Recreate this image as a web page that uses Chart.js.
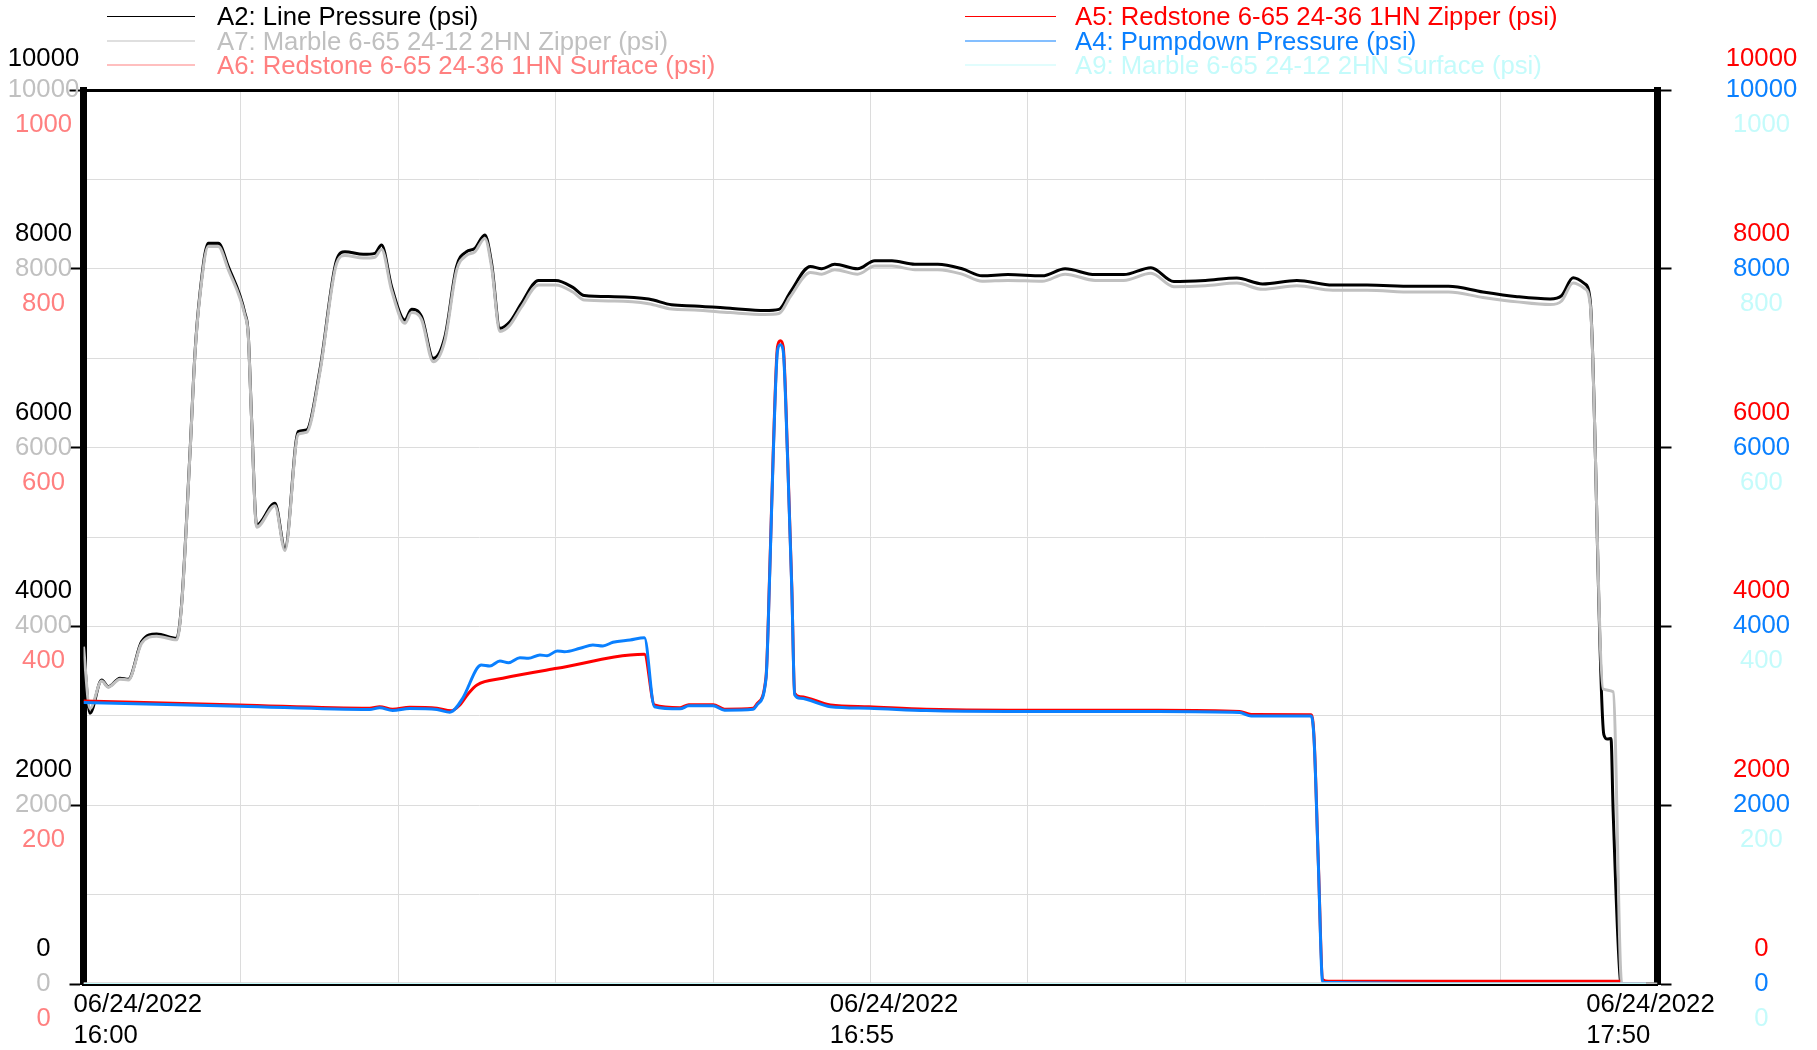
<!DOCTYPE html>
<html>
<head>
<meta charset="utf-8">
<title>Pressure trend</title>
<script src="https://cdn.jsdelivr.net/npm/chart.js@4.4.1/dist/chart.umd.min.js"></script>
<style>
  html, body { margin:0; padding:0; background:#fff; }
  #wrap { width:1817px; height:1050px; }
</style>
</head>
<body>
<div id="wrap"><canvas id="trendChart" width="1817" height="1050"></canvas></div>
<script>

// ======================================
// DATA (minutes after 16:00, psi)
// ======================================
const dateText = '06/24/2022';
const startHour = 16;
const timeTicks = [0, 55, 110];

const a2Time = [0, 0.45, 1.27, 1.73, 2.55, 3.13, 4.06, 5.11, 6.51, 6.86, 7.44, 7.79, 8.14, 8.72, 9.42, 10.12, 11.28, 11.51, 11.75, 12.1, 13.38, 14.08, 15.01, 15.59, 16.52, 17.69, 18.27, 19.55, 20.36, 20.83, 21.53, 22.46, 22.93, 23.63, 24.44, 25.26, 26.07, 26.77, 27.35, 28.05, 28.52, 29.1, 29.8, 30.6, 31.8, 33.0, 34.2, 35.0, 37.1, 39.5, 41.1, 42.7, 45.2, 47.6, 48.6, 49.4, 50.8, 51.6, 52.5, 54.1, 55.3, 56.5, 58.1, 59.7, 61.4, 62.8, 64.6, 67.0, 68.6, 70.7, 72.7, 74.6, 76.2, 78.4, 80.6, 82.4, 84.8, 87.3, 89.7, 92.9, 95.4, 97.8, 100.2, 102.5, 103.3, 104.1, 104.9, 105.3, 106.25, 106.5, 106.75, 106.9, 107.4, 107.5, 110];
const a2Psi  = [3750, 3028, 3400, 3326, 3420, 3408, 3829, 3915, 3867, 4258, 5936, 7055, 7726, 8285, 8285, 8024, 7502, 7278, 6309, 5134, 5377, 4873, 6178, 6197, 6868, 8098, 8191, 8162, 8173, 8266, 7800, 7427, 7547, 7465, 6999, 7241, 8024, 8191, 8229, 8378, 8061, 7334, 7408, 7610, 7870, 7870, 7792, 7701, 7688, 7662, 7598, 7585, 7559, 7533, 7546, 7740, 8025, 8000, 8051, 8000, 8090, 8090, 8051, 8051, 8000, 7922, 7935, 7922, 8000, 7935, 7935, 8012, 7857, 7870, 7896, 7831, 7870, 7818, 7818, 7805, 7805, 7740, 7688, 7662, 7700, 7899, 7834, 7639, 2790, 2740, 2745, 1930, 50, 0, 0];

const a7Time = [0, 0.45, 1.27, 1.73, 2.55, 3.13, 4.06, 5.11, 6.51, 6.86, 7.44, 7.79, 8.14, 8.72, 9.42, 10.12, 11.28, 11.51, 11.75, 12.1, 13.38, 14.08, 15.01, 15.59, 16.52, 17.69, 18.27, 19.55, 20.36, 20.83, 21.53, 22.46, 22.93, 23.63, 24.44, 25.26, 26.07, 26.77, 27.35, 28.05, 28.52, 29.1, 29.8, 30.6, 31.8, 33.0, 34.2, 35.0, 37.1, 39.5, 41.1, 42.7, 45.2, 47.6, 48.6, 49.4, 50.8, 51.6, 52.5, 54.1, 55.3, 56.5, 58.1, 59.7, 61.4, 62.8, 64.6, 67.0, 68.6, 70.7, 72.7, 74.6, 76.2, 78.4, 80.6, 82.4, 84.8, 87.3, 89.7, 92.9, 95.4, 97.8, 100.2, 102.5, 103.3, 104.1, 104.9, 105.3, 106.2, 106.9, 107.5, 110];
const a7Psi  = [3773, 3080, 3390, 3320, 3410, 3400, 3810, 3890, 3850, 4240, 5920, 7040, 7700, 8250, 8250, 7990, 7480, 7260, 6290, 5110, 5350, 4850, 6150, 6170, 6840, 8060, 8150, 8120, 8130, 8220, 7760, 7390, 7510, 7430, 6960, 7200, 7980, 8150, 8190, 8340, 8020, 7300, 7370, 7570, 7820, 7820, 7740, 7650, 7640, 7610, 7550, 7540, 7510, 7490, 7500, 7690, 7960, 7940, 7990, 7940, 8030, 8030, 7990, 7990, 7940, 7860, 7870, 7860, 7940, 7870, 7870, 7950, 7800, 7810, 7840, 7770, 7810, 7760, 7760, 7740, 7740, 7680, 7630, 7600, 7640, 7840, 7780, 7600, 3300, 3270, 0, 0];

const a6Time = [0, 109.2];
const a6Psi  = [0, 0];

const a5Time = [0, 10.9, 20.0, 20.7, 21.6, 22.8, 24.7, 25.7, 26.3, 26.9, 27.5, 29.3, 33.1, 39.2, 39.9, 41.7, 42.3, 44.0, 44.8, 46.8, 47.1, 47.7, 47.96, 48.2, 48.5, 48.7, 48.9, 49.2, 49.5, 49.7, 50.1, 52.2, 54.9, 58.9, 64.6, 75.1, 80.8, 81.6, 85.8, 86.0, 86.3, 86.6, 87.0, 107.4];
const a5Psi  = [3166, 3121, 3084, 3102, 3073, 3095, 3084, 3057, 3121, 3250, 3345, 3420, 3531, 3688, 3121, 3091, 3125, 3125, 3074, 3084, 3140, 3437, 4631, 5936, 7129, 7196, 7129, 5936, 4444, 3252, 3214, 3121, 3100, 3074, 3062, 3062, 3049, 3015, 3012, 2750, 1350, 50, 30, 30];

const a4Time = [0, 10.9, 20.0, 20.7, 21.6, 22.8, 24.7, 25.6, 26.5, 27.5, 27.8, 28.4, 29.1, 29.7, 30.5, 31.1, 31.9, 32.4, 33.1, 33.6, 34.7, 35.6, 36.3, 37.0, 38.2, 39.2, 39.9, 41.7, 42.3, 44.0, 44.8, 46.8, 47.1, 47.7, 47.96, 48.2, 48.5, 48.7, 48.9, 49.2, 49.5, 49.7, 50.1, 52.2, 54.9, 58.9, 64.6, 75.1, 80.8, 81.6, 85.8, 86.0, 86.3, 86.6, 109.2];
const a4Psi  = [3150, 3108, 3070, 3090, 3060, 3082, 3070, 3040, 3196, 3531, 3568, 3557, 3613, 3594, 3650, 3643, 3680, 3672, 3725, 3717, 3755, 3792, 3781, 3822, 3848, 3874, 3102, 3078, 3112, 3112, 3062, 3072, 3128, 3420, 4600, 5900, 7080, 7150, 7080, 5900, 4420, 3235, 3195, 3102, 3085, 3058, 3048, 3048, 3036, 2998, 2998, 2730, 1330, 20, 0];

const a9Time = [0, 109.2];
const a9Psi  = [0, 0];

// ======================================
// STYLE
// ======================================
const FONT = "'Liberation Sans', Arial, Helvetica, sans-serif";
const FONT_SIZE = 25.7;
const BLACK = '#000000';
const GRAY  = '#c0c0c0';
const PINK  = '#ff8080';
const RED   = '#ff0000';
const BLUE  = '#0a80ff';
const CYAN  = '#c4fbfb';
const GRID  = '#dcdcdc';

Chart.defaults.font.family = FONT;
Chart.defaults.font.size = FONT_SIZE;

function toPoints(times, values){
  return times.map((t, i) => ({ x:t, y:values[i] }));
}

function timeText(min){
  const h = startHour + Math.floor(min / 60);
  const m = Math.round(min % 60);
  return h + ':' + String(m).padStart(2, '0');
}

// labels stacked above / on / below the tick line
function stacked(pos){
  return (v) => {
    const lines = ['', '', ''];
    lines[pos] = String(v);
    return lines;
  };
}

// row spacing of stacked labels (top one sits a bit closer)
function stackFont(c){
  const top = c.tick && c.tick.value === c.scale.max;
  return { size:FONT_SIZE, lineHeight:(top ? 31 : 35) / FONT_SIZE };
}

// extra label axes take no room in the layout...
function squash(scale){
  scale.width = 0;
  scale.paddingTop = 0;
  scale.paddingBottom = 0;
}

// ...and get their drawing room back once the layout is done
const labelAxes = {
  id:'labelAxes',
  afterLayout(chart){
    const area = chart.chartArea;
    ['yA2', 'yA6'].forEach(id => {
      const s = chart.scales[id];
      s.left = 0; s.right = area.left; s.width = area.left;
    });
    ['yA5', 'yA9'].forEach(id => {
      const s = chart.scales[id];
      s.left = area.right; s.right = chart.width; s.width = chart.width - area.right;
    });
  }
};

// ======================================
// LEGEND (two columns above the plot)
// ======================================
const legendCols = [
  { line0:107, line1:195, text:217 },
  { line0:965, line1:1056, text:1075 }
];
const legendRows = [16.5, 41, 65];

const twoColumnLegend = {
  id:'twoColumnLegend',
  afterDraw(chart){
    const ctx = chart.ctx;
    ctx.save();
    ctx.font = FONT_SIZE + 'px ' + FONT;
    ctx.textBaseline = 'middle';
    ctx.textAlign = 'left';
    chart.data.datasets.forEach((ds, i) => {
      const col = legendCols[i < 3 ? 0 : 1];
      const y = legendRows[i % 3];
      ctx.strokeStyle = ds.borderColor;
      ctx.lineWidth = 1.2;
      ctx.beginPath();
      ctx.moveTo(col.line0, y);
      ctx.lineTo(col.line1, y);
      ctx.stroke();
      ctx.fillStyle = ds.borderColor;
      ctx.fillText(ds.label, col.text, y + 1.5);
    });
    ctx.restore();
  }
};

// ======================================
// CHART
// ======================================
const lineBase = {
  borderWidth:3,
  pointRadius:0,
  fill:false,
  cubicInterpolationMode:'monotone',
  xAxisID:'x'
};

const ctx = document.getElementById('trendChart');

const trendChart = new Chart(ctx, {

  type:'line',

  data:{
    datasets:[
      { ...lineBase, label:'A2: Line Pressure (psi)', data:toPoints(a2Time, a2Psi), yAxisID:'yA2', borderColor:BLACK, order:5 },
      { ...lineBase, label:'A7: Marble 6-65 24-12 2HN Zipper (psi)', data:toPoints(a7Time, a7Psi), yAxisID:'yA7', borderColor:GRAY, order:4 },
      { ...lineBase, label:'A6: Redstone 6-65 24-36 1HN Surface (psi)', data:toPoints(a6Time, a6Psi), yAxisID:'yA6', borderColor:PINK, order:1 },
      { ...lineBase, label:'A5: Redstone 6-65 24-36 1HN Zipper (psi)', data:toPoints(a5Time, a5Psi), yAxisID:'yA5', borderColor:RED, order:3 },
      { ...lineBase, label:'A4: Pumpdown Pressure (psi)', data:toPoints(a4Time, a4Psi), yAxisID:'yA4', borderColor:BLUE, order:2 },
      { ...lineBase, label:'A9: Marble 6-65 24-12 2HN Surface (psi)', data:toPoints(a9Time, a9Psi), yAxisID:'yA9', borderColor:CYAN, order:0 }
    ]
  },

  options:{
    responsive:false,
    animation:false,
    events:[],

    layout:{ padding:{ top:90, left:0, right:0, bottom:0 } },

    plugins:{
      legend:{ display:false },
      tooltip:{ enabled:false }
    },

    scales:{

      // time grid + bottom frame
      x:{
        type:'linear', position:'bottom', weight:0,
        min:0, max:110,
        ticks:{ display:false, stepSize:11 },
        grid:{ color:GRID, lineWidth:1, drawTicks:false },
        border:{ color:BLACK, width:3 },
        afterFit:(s) => { s.height = 0; }
      },

      // date / time labels
      xLab:{
        type:'linear', position:'bottom', weight:1,
        min:0.73, max:115.19,
        afterBuildTicks:(s) => { s.ticks = timeTicks.map(v => ({ value:v })); },
        ticks:{
          align:'start', padding:5, autoSkip:false, maxRotation:0,
          color:BLACK, font:{ size:FONT_SIZE, lineHeight:31 / FONT_SIZE },
          callback:(v) => [dateText, timeText(v)]
        },
        grid:{ display:false, drawTicks:false },
        border:{ display:false },
        afterFit:(s) => { s.height = 66; s.paddingLeft = 0; s.paddingRight = 0; }
      },

      // top frame
      xTop:{
        type:'linear', position:'top',
        ticks:{ display:false },
        grid:{ display:false, drawTicks:false },
        border:{ color:BLACK, width:3 },
        afterFit:(s) => { s.height = 0; }
      },

      // left side
      yA7:{
        position:'left', weight:2, min:0, max:10000,
        ticks:{
          stepSize:1000, color:GRAY, crossAlign:'center', padding:-9.7,
          callback:(v) => v % 2000 === 0 ? String(v) : ''
        },
        grid:{
          color:GRID, lineWidth:1, tickLength:14, tickWidth:2,
          tickColor:(c) => c.tick && c.tick.value % 2000 === 0 ? BLACK : 'rgba(0,0,0,0)'
        },
        border:{ color:BLACK, width:7 },
        afterFit:(s) => { s.width = 83.5; s.paddingTop = 0; s.paddingBottom = 0; }
      },

      yA2:{
        position:'left', weight:1, min:0, max:10000,
        ticks:{ stepSize:2000, color:BLACK, crossAlign:'center', padding:4.3, font:stackFont, callback:stacked(0) },
        grid:{ display:false, drawTicks:false },
        border:{ display:false },
        afterFit:squash
      },

      yA6:{
        position:'left', weight:0, min:0, max:1000,
        ticks:{ stepSize:200, color:PINK, crossAlign:'center', padding:11.4, font:{ size:FONT_SIZE, lineHeight:35 / FONT_SIZE }, callback:stacked(2) },
        grid:{ display:false, drawTicks:false },
        border:{ display:false },
        afterFit:squash
      },

      // right side
      yA4:{
        position:'right', weight:2, min:0, max:10000,
        ticks:{ stepSize:2000, color:BLUE, crossAlign:'center', padding:54.3, callback:(v) => String(v) },
        grid:{ drawOnChartArea:false, tickLength:14, tickWidth:2, tickColor:BLACK },
        border:{ color:BLACK, width:7 },
        afterFit:(s) => { s.width = 159.5; s.paddingTop = 0; s.paddingBottom = 0; }
      },

      yA5:{
        position:'right', weight:0, min:0, max:10000,
        ticks:{ stepSize:2000, color:RED, crossAlign:'center', padding:68.3, font:stackFont, callback:stacked(0) },
        grid:{ display:false, drawTicks:false },
        border:{ display:false },
        afterFit:squash
      },

      yA9:{
        position:'right', weight:1, min:0, max:1000,
        ticks:{ stepSize:200, color:CYAN, crossAlign:'center', padding:75.4, font:{ size:FONT_SIZE, lineHeight:35 / FONT_SIZE }, callback:stacked(2) },
        grid:{ display:false, drawTicks:false },
        border:{ display:false },
        afterFit:squash
      }
    }
  },

  plugins:[labelAxes, twoColumnLegend]
});

</script>
</body>
</html>
